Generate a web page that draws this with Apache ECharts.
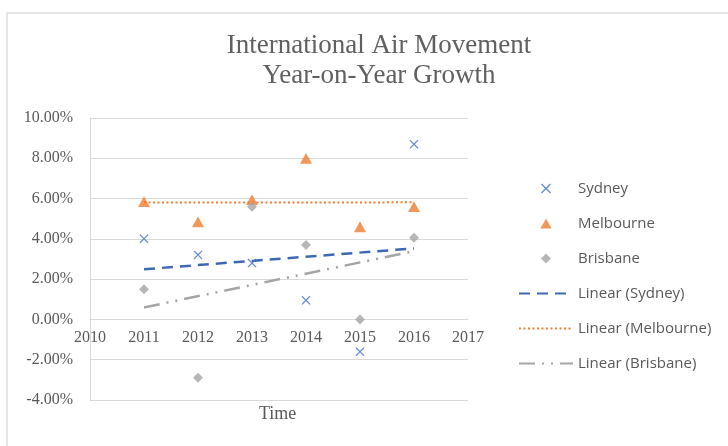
<!DOCTYPE html>
<html>
<head>
<meta charset="utf-8">
<script src="https://cdn.jsdelivr.net/npm/echarts@6/dist/echarts.min.js"></script>
<style>
  html, body { margin: 0; padding: 0; background: #fff; }
  #box { width: 728px; height: 446px; }
</style>
</head>
<body>
<div id="box"></div>
<script>
  // year-on-year growth, percent
  const years = [2011, 2012, 2013, 2014, 2015, 2016];
  const sydney = [4.0, 3.2, 2.8, 0.95, -1.6, 8.7];
  const melbourne = [5.85, 4.85, 5.95, 8.0, 4.6, 5.6];
  const brisbane = [1.5, -2.9, 5.6, 3.7, 0.0, 4.05];

  const xTicks = [2010, 2011, 2012, 2013, 2014, 2015, 2016, 2017];
  const yTicks = [-4, -2, 0, 2, 4, 6, 8, 10];

  const grey = '#595959';
  const gridGrey = '#d9d9d9';

  // least squares fit, like the excel "Linear" trendline
  function trend(xs, ys) {
    const n = xs.length;
    const mx = xs.reduce((a, b) => a + b, 0) / n;
    const my = ys.reduce((a, b) => a + b, 0) / n;
    let sxy = 0, sxx = 0;
    for (let i = 0; i < n; i++) {
      sxy += (xs[i] - mx) * (ys[i] - my);
      sxx += (xs[i] - mx) * (xs[i] - mx);
    }
    const k = sxy / sxx;
    const first = xs[0], last = xs[n - 1];
    return [[first, my + k * (first - mx)], [last, my + k * (last - mx)]];
  }

  const pairs = (ys) => years.map((y, i) => [y, ys[i]]);

  const crossPath = 'path://M1,0L5,4L9,0L10,1L6,5L10,9L9,10L5,6L1,10L0,9L4,5L0,1Z';
  const triPath = 'path://M5,0L10,9L0,9Z';
  const diaPath = 'path://M5,0L10,5L5,10L0,5Z';

  const grid = { left: 90, right: 260, top: 118, bottom: 46 };
  const plotH = 446 - grid.top - grid.bottom;
  // x axis sits on the 0% line, like excel does
  const zeroOffset = -plotH * (0 - yTicks[0]) / (yTicks[yTicks.length - 1] - yTicks[0]);

  const chart = echarts.init(document.getElementById('box'));
  chart.setOption({
    animation: false,
    title: {
      text: 'International Air Movement\nYear-on-Year Growth',
      left: 374,
      top: 26,
      textAlign: 'center',
      textStyle: {
        fontFamily: 'Liberation Serif',
        fontWeight: 'normal',
        fontSize: 27,
        lineHeight: 30,
        color: '#606060',
      },
    },
    graphic: [
      {
        type: 'rect',
        shape: { x: 7, y: 13, width: 800, height: 500 },
        style: { fill: 'none', stroke: '#e6e6e6', lineWidth: 2 },
        silent: true,
      },
      {
        type: 'text',
        left: 259,
        top: 405,
        style: {
          text: 'Time',
          font: '18px "Liberation Serif"',
          fill: grey,
        },
      },
    ],
    grid: grid,
    legend: {
      orient: 'vertical',
      left: 513,
      top: 176,
      itemWidth: 54,
      itemHeight: 10,
      itemGap: 20,
      textStyle: { fontFamily: 'Open Sans', fontSize: 15, color: grey },
      data: [
        { name: 'Sydney', icon: crossPath },
        { name: 'Melbourne', icon: triPath },
        { name: 'Brisbane', icon: diaPath },
        { name: 'Linear (Sydney)', itemStyle: { opacity: 0 } },
        { name: 'Linear (Melbourne)', itemStyle: { opacity: 0 } },
        { name: 'Linear (Brisbane)', itemStyle: { opacity: 0 } },
      ],
    },
    xAxis: {
      type: 'value',
      min: xTicks[0],
      max: xTicks[xTicks.length - 1],
      interval: 1,
      offset: zeroOffset,
      axisLine: { onZero: false, lineStyle: { color: gridGrey } },
      axisTick: { show: false },
      splitLine: { show: false },
      axisLabel: {
        margin: 10,
        fontFamily: 'Liberation Serif',
        fontSize: 16,
        color: grey,
        formatter: (v) => String(v),
      },
    },
    yAxis: {
      type: 'value',
      min: yTicks[0],
      max: yTicks[yTicks.length - 1],
      interval: 2,
      axisLine: { show: true, onZero: false, lineStyle: { color: gridGrey } },
      axisTick: { show: false },
      splitLine: { lineStyle: { color: gridGrey } },
      axisLabel: {
        margin: 17,
        fontFamily: 'Liberation Serif',
        fontSize: 16,
        color: grey,
        formatter: (v) => v.toFixed(2) + '%',
      },
    },
    series: [
      {
        name: 'Sydney',
        type: 'scatter',
        symbol: crossPath,
        symbolSize: 9,
        itemStyle: { color: '#4472c4' },
        data: pairs(sydney),
        z: 5,
      },
      {
        name: 'Melbourne',
        type: 'scatter',
        symbol: triPath,
        symbolSize: 12,
        symbolKeepAspect: true,
        itemStyle: { color: '#ed7d31' },
        data: pairs(melbourne),
        z: 5,
      },
      {
        name: 'Brisbane',
        type: 'scatter',
        symbol: diaPath,
        symbolSize: 10,
        itemStyle: { color: '#a5a5a5' },
        data: pairs(brisbane),
        z: 5,
      },
      {
        name: 'Linear (Sydney)',
        type: 'line',
        symbol: 'none',
        lineStyle: { color: '#3e68b4', width: 2.5, type: [11, 7] },
        itemStyle: { color: '#3e68b4' },
        data: trend(years, sydney),
      },
      {
        name: 'Linear (Melbourne)',
        type: 'line',
        symbol: 'none',
        lineStyle: { color: '#ed7d31', width: 2, type: [2, 2.5] },
        itemStyle: { color: '#ed7d31' },
        data: trend(years, melbourne),
      },
      {
        name: 'Linear (Brisbane)',
        type: 'line',
        symbol: 'none',
        lineStyle: { color: '#a5a5a5', width: 2.5, type: [16, 7, 2, 7, 2, 7] },
        itemStyle: { color: '#a5a5a5' },
        data: trend(years, brisbane),
      },
    ],
  });
</script>
</body>
</html>
